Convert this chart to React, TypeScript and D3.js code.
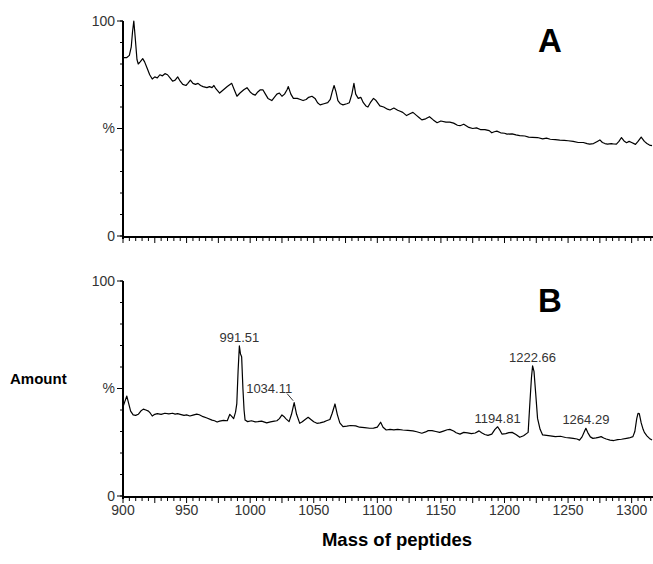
import React from 'react';
import * as d3 from 'd3';

// spectrum A: [mass, relative amount %]
const spectrumA: [number, number][] = [
  [900, 83], [903, 83], [905, 84], [906.5, 88], [907.5, 95], [908.5, 100], [909.5, 93], [911, 82],
  [912, 80], [913.5, 81], [915.5, 82.5], [917, 81], [919, 78], [921, 75], [923, 73], [925, 74],
  [927, 73.5], [929, 75], [931, 74.5], [933, 75.5], [935, 75], [937, 73.5], [939, 72], [941, 72.5],
  [943, 74], [945, 72], [947, 70.5], [949.5, 70], [951, 71], [953, 72.5], [955, 71], [957, 70.5],
  [959, 71], [961, 70], [963, 69.5], [966, 69], [968, 69.5], [970, 69], [971.5, 70], [973, 68.5],
  [976, 66.5], [979, 68], [982, 69.5], [985.5, 71], [987.5, 68], [989.6, 65], [992, 66.5], [995, 68],
  [997.5, 69], [1000, 67], [1002, 66], [1004, 65.5], [1006, 67], [1008, 68], [1010, 68], [1012, 66],
  [1014, 64], [1017, 63], [1019, 64.5], [1021, 66], [1023, 66.5], [1025, 65], [1027, 66], [1029, 68],
  [1030, 69.5], [1032, 66], [1034, 64], [1037, 64], [1039.5, 63.5], [1041.6, 63], [1044, 63.5],
  [1046, 64.5], [1048.6, 65], [1051, 64], [1053, 62], [1055, 61], [1058, 61.5], [1061, 62],
  [1063, 63.5], [1064.5, 67], [1066, 70], [1067.5, 67], [1069, 63], [1071, 61.5], [1073, 61],
  [1076, 61.5], [1078, 62], [1080, 66], [1081.6, 71], [1083, 66], [1085, 64], [1087, 64.5],
  [1089, 62], [1091, 60.5], [1092.6, 60], [1094.5, 62], [1097, 64], [1099, 63], [1102, 60.5],
  [1105, 60], [1108, 59], [1110, 58.6], [1113, 59.5], [1116, 58.5], [1118, 58], [1120, 57.5],
  [1123, 56], [1126, 57], [1128, 57.5], [1131, 56], [1133, 55], [1135, 54], [1138, 54.5],
  [1141, 55.5], [1144, 54], [1147, 52.7], [1150, 53.5], [1154, 53], [1157, 53], [1160, 52.5],
  [1163, 51.5], [1165, 51.3], [1168, 52], [1172, 50.5], [1175, 50], [1178, 50.3], [1181, 49.5],
  [1184.6, 49.5], [1188, 49], [1190, 48], [1192, 48.5], [1194, 48.8], [1197, 48], [1200, 47.8],
  [1202, 47.4], [1206, 47.5], [1209, 47], [1212, 46.7], [1216, 46.5], [1219, 46], [1222, 45.9],
  [1226, 45.8], [1230, 45.2], [1233, 45.5], [1236, 45], [1240, 44.8], [1243.5, 44.6], [1247, 44.5],
  [1250, 44.3], [1254, 44], [1258, 43.5], [1262, 43.5], [1265, 43], [1267, 42.7], [1270, 43],
  [1273, 44], [1275, 44.7], [1277, 43.5], [1279, 43], [1281, 42.7], [1284, 43], [1286, 42.8],
  [1288, 42.7], [1290, 44], [1292, 45.8], [1294, 44.2], [1296, 43.4], [1298, 44], [1300, 43.5],
  [1303, 42.6], [1305, 44], [1307.5, 46], [1310, 44], [1312, 43], [1314, 42.3], [1316, 42],
];

// spectrum B
const spectrumB: [number, number][] = [
  [900, 41.5], [901.5, 44], [903, 46.5], [904.5, 43], [906, 39.5], [908, 37.7], [910, 37.5], [912, 38],
  [914, 39.5], [916, 40.4], [918, 40], [920, 39.5], [921.5, 38.5], [923, 37.2], [925, 38], [927, 38.3],
  [930, 38], [933, 38.5], [936, 38.2], [939, 38.5], [941, 38.1], [943, 38.3], [945, 38], [948, 37.5],
  [950, 37.7], [952.6, 37.2], [955, 37.6], [958, 38.1], [960, 37.8], [963, 36.9], [966, 36.3],
  [970, 35.3], [972, 35], [974, 34.4], [976, 34.8], [979, 35.2], [982, 35], [983, 36.5], [984, 38],
  [985.5, 37], [987, 36], [988.5, 39], [989.5, 43], [990.5, 58], [991.5, 69.8], [992.4, 66],
  [993.3, 64.8], [994.3, 50], [995.2, 40], [996, 35.3], [998, 34.6], [1001, 35], [1004, 34.5],
  [1006, 34.6], [1009, 34.8], [1013, 34], [1016, 34.5], [1019, 34.8], [1021, 35], [1023, 36],
  [1025, 37.7], [1026.5, 37], [1028, 36], [1030.6, 34.6], [1032.5, 38], [1034.6, 43.4], [1036.5, 38],
  [1039, 33.8], [1041, 34.5], [1043, 35.5], [1045.6, 36.6], [1048, 35.5], [1050, 34.5], [1052.5, 33.8],
  [1055, 34], [1058, 34.5], [1060, 35], [1062.7, 35.6], [1064.5, 38.5], [1066.7, 42.8], [1068.5, 38],
  [1070.5, 34], [1073, 32.3], [1076, 32.5], [1079, 32.8], [1083, 32.6], [1086, 32], [1090, 31.8],
  [1094, 31.5], [1097, 31.6], [1100, 32], [1102.6, 34.3], [1104.5, 32], [1107, 30.7], [1110, 31],
  [1113, 30.8], [1116, 31], [1120, 30.7], [1124, 30.5], [1128, 30.3], [1131, 29.9], [1135, 29.2],
  [1138, 29.8], [1140, 30.4], [1143, 30.4], [1146, 30], [1149, 29.6], [1152, 30.2], [1155, 30.8],
  [1157, 31], [1160, 30.2], [1162, 29.4], [1165, 28.8], [1168, 29.6], [1171, 29.4], [1174, 29],
  [1177, 29.3], [1180, 30.3], [1182, 29.4], [1184.5, 28.6], [1187, 28.2], [1190, 28.8], [1192.5, 31],
  [1194.6, 32.2], [1196.5, 30.5], [1198, 28.8], [1201, 29], [1203.5, 29.5], [1206, 29.6], [1209, 28.6],
  [1212, 27.3], [1215, 28], [1218.6, 29.6], [1220, 43.6], [1221.2, 55], [1222.1, 60.5], [1223.2, 58],
  [1224.5, 48], [1226, 36.1], [1228, 31], [1230, 28.4], [1233, 28.2], [1236, 28], [1240, 27.6],
  [1244, 27.8], [1248, 27.2], [1251, 27], [1254, 26.8], [1257, 26.5], [1259, 26], [1261, 27.5],
  [1262.5, 29.5], [1264, 31.5], [1265.5, 29.5], [1267.5, 27.5], [1269.5, 26.8], [1272, 27], [1274, 27.3],
  [1276, 27.6], [1278, 27], [1280, 26.5], [1283, 26], [1286, 25.8], [1289, 26.2], [1292, 26.4],
  [1296, 26.8], [1298, 27], [1301, 27.6], [1302.5, 30], [1304, 36], [1305, 38.4], [1306, 38.3],
  [1307.5, 34], [1309, 31], [1310, 29.6], [1312, 28], [1314, 26.8], [1316, 26],
];

const peakLabels = [
  { mass: 991.5, value: 69.8, label: '991.51' },
  { mass: 1034.6, value: 43.4, label: '1034.11' },
  { mass: 1194.6, value: 32.2, label: '1194.81' },
  { mass: 1222.1, value: 60.5, label: '1222.66' },
  { mass: 1264, value: 31.5, label: '1264.29' },
];

const xTickLabels = [900, 950, 1000, 1050, 1100, 1150, 1200, 1250, 1300];
const yTickLabels: [number, string][] = [[100, '100'], [50, '%'], [0, '0']];

const W = 653;
const H = 564;
const FONT = '"Liberation Sans", Arial, sans-serif';

const x = d3.scaleLinear().domain([900, 1316]).range([123, 652]);

function Panel({ data, top, bottom, letter, showLabels }: {
  data: [number, number][]; top: number; bottom: number; letter: string; showLabels: boolean;
}) {
  const y = d3.scaleLinear().domain([0, 100]).range([bottom, top]);
  const line = d3.line<[number, number]>().x(d => x(d[0])).y(d => y(d[1]));
  const axisY = bottom + 1;
  const minor = d3.range(900, 1317, 5);
  const yMinor = d3.range(0, 101, 10);

  return (
    <g>
      <path d={line(data) ?? ''} fill="none" stroke="#000" strokeWidth={1.2} strokeLinejoin="round" />
      {/* y axis */}
      <line x1={123} x2={123} y1={top} y2={axisY + 2} stroke="#000" strokeWidth={2} />
      {yMinor.map(v => (
        <line key={v} x1={120} x2={123} y1={y(v)} y2={y(v)} stroke="#000" strokeWidth={1} />
      ))}
      {yTickLabels.map(([v, t]) => (
        <g key={t}>
          <line x1={117} x2={123} y1={y(v)} y2={y(v)} stroke="#000" strokeWidth={1} />
          <text x={115} y={y(v)} dy="0.35em" textAnchor="end" fontFamily={FONT} fontSize={14} fill="#333">{t}</text>
        </g>
      ))}
      {/* x axis */}
      <line x1={122} x2={W} y1={axisY} y2={axisY} stroke="#000" strokeWidth={2} />
      {minor.map(m => (
        <line key={m} x1={x(m)} x2={x(m)} y1={axisY} y2={axisY + (m % 25 === 0 ? 6 : 4)} stroke="#000" strokeWidth={1} />
      ))}
      {showLabels && xTickLabels.map(m => (
        <text key={m} x={x(m)} y={axisY + 18} textAnchor="middle" fontFamily={FONT} fontSize={14} fill="#333">{m}</text>
      ))}
      <text x={550} y={top + 31} textAnchor="middle" fontFamily={FONT} fontSize={33} fontWeight="bold">{letter}</text>
      {showLabels && peakLabels.map(p => {
        const px = x(p.mass);
        const py = y(p.value);
        if (p.label === '1034.11') {
          return (
            <g key={p.label}>
              <text x={px - 48} y={py - 10} fontFamily={FONT} fontSize={13} fill="#333">{p.label}</text>
              <line x1={px - 7} y1={py - 9} x2={px - 1} y2={py - 2} stroke="#000" strokeWidth={0.8} />
            </g>
          );
        }
        return (
          <text key={p.label} x={px} y={py - 4} textAnchor="middle" fontFamily={FONT} fontSize={13} fill="#333">{p.label}</text>
        );
      })}
    </g>
  );
}

export default function App() {
  return (
    <svg width={W} height={H} style={{ position: 'absolute', left: 0, top: 0, background: '#fff' }}>
      <rect width={W} height={H} fill="#fff" />
      <Panel data={spectrumA} top={21} bottom={236} letter="A" showLabels={false} />
      <Panel data={spectrumB} top={281} bottom={496} letter="B" showLabels={true} />
      <text x={10} y={384} fontFamily={FONT} fontSize={15} fontWeight="bold">Amount</text>
      <text x={397} y={546} textAnchor="middle" fontFamily={FONT} fontSize={18.5} fontWeight="bold">Mass of peptides</text>
    </svg>
  );
}
